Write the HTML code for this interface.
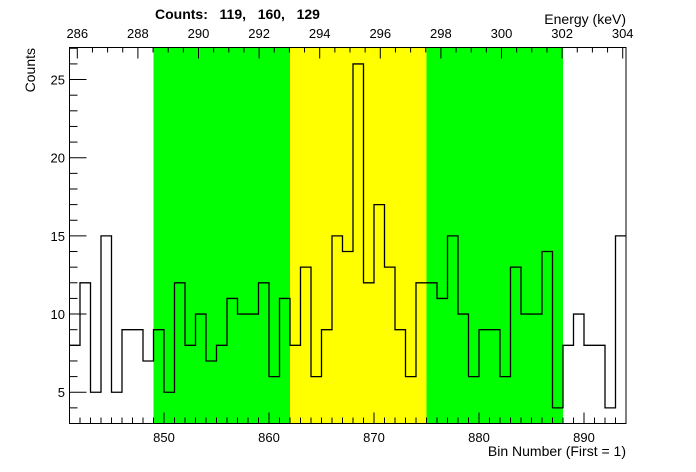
<!DOCTYPE html>
<html><head><meta charset="utf-8"><style>
body{margin:0;background:#fff}
svg{display:block;font-family:"Liberation Sans",sans-serif}
</style></head><body>
<svg id="chart" width="696" height="472">
<g id="bands"></g>
<g id="hist"></g>
<g id="axes"></g>
<text x="155" y="19" font-size="14" font-weight="bold" xml:space="preserve">Counts:   119,   160,   129</text>
<text x="626" y="24" font-size="14" text-anchor="end">Energy (keV)</text>
<text x="626" y="456" font-size="14" text-anchor="end">Bin Number (First = 1)</text>
<text transform="translate(35,48) rotate(-90)" font-size="14" text-anchor="end">Counts</text>
</svg>
<script>
const counts=[8,12,5,15,5,9,9,7,9,5,12,8,10,7,8,11,10,10,12,6,11,8,13,6,9,15,14,26,12,17,13,9,6,12,12,11,15,10,6,9,9,6,13,10,10,14,4,8,10,8,8,4,15];
const firstBinLow=841;
const bandEdges=[849,862,875,888];
const bandColors=["#00ff00","#ffff00","#00ff00"];
const xTicks=[850,860,870,880,890];
const yTicks=[5,10,15,20,25];
const eTicks=[286,288,290,292,294,296,298,300,302,304];

const L=69.5,R=626,T=47.5,B=423.5;
const xmin=841,xmax=894,ymin=3,ymax=27.05;
const X=v=>L+(v-xmin)/(xmax-xmin)*(R-L);
const Y=v=>B-(v-ymin)/(ymax-ymin)*(B-T);
const eX=e=>77.3+(e-286)*(622.7-77.3)/18;
const NS="http://www.w3.org/2000/svg";
function mk(tag,attrs,parent){const el=document.createElementNS(NS,tag);for(const k in attrs)el.setAttribute(k,attrs[k]);parent.appendChild(el);return el;}
const bands=document.getElementById('bands'),hist=document.getElementById('hist'),axes=document.getElementById('axes');
for(let i=0;i<bandColors.length;i++){
 const r=mk('rect',{x:X(bandEdges[i]),y:T,width:X(bandEdges[i+1])-X(bandEdges[i]),height:B-T,fill:bandColors[i]},bands);
 
 
}
let d='M'+X(firstBinLow)+' '+Y(counts[0]);
counts.forEach((c,i)=>{const x0=X(firstBinLow+i),x1=X(firstBinLow+i+1);d+=' L'+x0+' '+Y(c)+' L'+x1+' '+Y(c);});
const p=mk('path',{d:d,fill:'none',stroke:'#000','stroke-width':1.3},hist);


const frame=mk('rect',{x:L,y:T,width:R-L,height:B-T,fill:'none',stroke:'#000','stroke-width':1},axes);


// bottom ticks
for(let b=xmin+1;b<xmax;b++){const maj=b%10==0;const len=maj?11:6;mk('line',{x1:X(b),x2:X(b),y1:B,y2:B-len,stroke:'#000'},axes);}
xTicks.forEach(v=>{const t=mk('text',{x:X(v),y:442,'font-size':13,'text-anchor':'middle'},axes);t.textContent=v;
 
 });
// left ticks
for(let v=4;v<=27;v++){const maj=v%5==0;mk('line',{x1:L,x2:L+(maj?17:8),y1:Y(v),y2:Y(v),stroke:'#000'},axes);}
yTicks.forEach(v=>{const t=mk('text',{x:65,y:Y(v)+5,'font-size':13,'text-anchor':'end'},axes);t.textContent=v;
 
 });
// top energy ticks
for(let e=286;e<=304.01;e+=0.5){const x=eX(e);if(x<L||x>R)continue;const maj=Math.abs(e-Math.round(e/2)*2)<0.01;mk('line',{x1:x,x2:x,y1:T,y2:T+(maj?11:5),stroke:'#000'},axes);}
eTicks.forEach(e=>{const t=mk('text',{x:eX(e),y:38,'font-size':13,'text-anchor':'middle'},axes);t.textContent=e;
 
 });
</script>
</body></html>
